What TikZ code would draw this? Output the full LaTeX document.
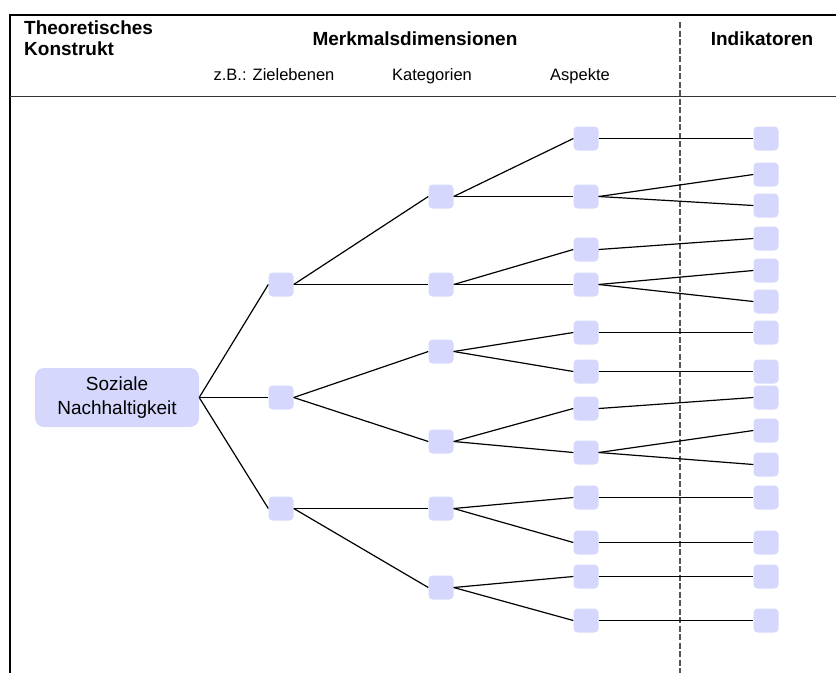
\documentclass[tikz,border=0pt]{standalone}
\usepackage{fontspec}
\setmainfont{Liberation Sans}
\definecolor{boxfill}{RGB}{213,216,252}
\definecolor{dashgray}{RGB}{85,85,85}
\tikzset{vertex/.style = {shape=rectangle,rounded corners=4pt,fill=boxfill,minimum width=25pt,minimum height=24pt,inner sep=0pt}}
\tikzset{edge/.style = {line width=1.2pt}}
\tikzset{head/.style = {font=\fontsize{19}{21}\selectfont\bfseries,inner sep=0pt}}
\tikzset{subhead/.style = {font=\fontsize{16.5}{19}\selectfont,inner sep=0pt}}

\begin{document}
\begin{tikzpicture}[x=1pt,y=-1pt]
\useasboundingbox (0,0) rectangle (836,673);

% frame and header
\draw[line width=2pt] (836,15) -- (10,15) -- (10,673);
\draw[line width=1pt,black!80] (10,96) -- (836,96);
\draw[line width=1.2pt,dashgray,dash pattern=on 6pt off 2.5pt] (680,22) -- (680,673);

\node[head,anchor=north west,align=left] (theo) at (24,21) {Theoretisches\\Konstrukt};
\node[head,anchor=base] (merk) at (415,45) {Merkmalsdimensionen};
\node[head,anchor=base] (indi) at (762,45) {Indikatoren};
\node[subhead,anchor=base] (ziel) at (274,80) {z.B.: Zielebenen};
\node[subhead,anchor=base] (kat) at (432,80) {Kategorien};
\node[subhead,anchor=base] (asp) at (580,80) {Aspekte};

% tree
\node[vertex,minimum width=164pt,minimum height=59pt,rounded corners=9pt,
  align=center,font=\fontsize{19}{24}\selectfont] (r) at (117,397.5) {Soziale\\Nachhaltigkeit};

\foreach \y [count=\i] in {284.5,397.5,508.5}
  \node[vertex] (z\i) at (281,\y) {};
\foreach \y [count=\i] in {196.5,284.5,351.5,441.5,508.5,587.5}
  \node[vertex] (k\i) at (441,\y) {};
\foreach \y [count=\i] in {138.5,196.5,249.5,284.5,332.5,371.5,408.5,452.5,497.5,542.5,576.5,620.5}
  \node[vertex] (a\i) at (586,\y) {};
\foreach \y [count=\i] in {138.5,174.5,205.5,238.5,270.5,301.5,332.5,371.5,397.5,430.5,464.5,497.5,542.5,576.5,620.5}
  \node[vertex] (i\i) at (766,\y) {};

\foreach \s/\t in {r/z1,r/z2,r/z3,
  z1/k1,z1/k2,z2/k3,z2/k4,z3/k5,z3/k6,
  k1/a1,k1/a2,k2/a3,k2/a4,k3/a5,k3/a6,k4/a7,k4/a8,k5/a9,k5/a10,k6/a11,k6/a12,
  a1/i1,a2/i2,a2/i3,a3/i4,a4/i5,a4/i6,a5/i7,a6/i8,a7/i9,a8/i10,a8/i11,
  a9/i12,a10/i13,a11/i14,a12/i15}
  \draw[edge] (\s.east) -- (\t.west);

\end{tikzpicture}
\end{document}
